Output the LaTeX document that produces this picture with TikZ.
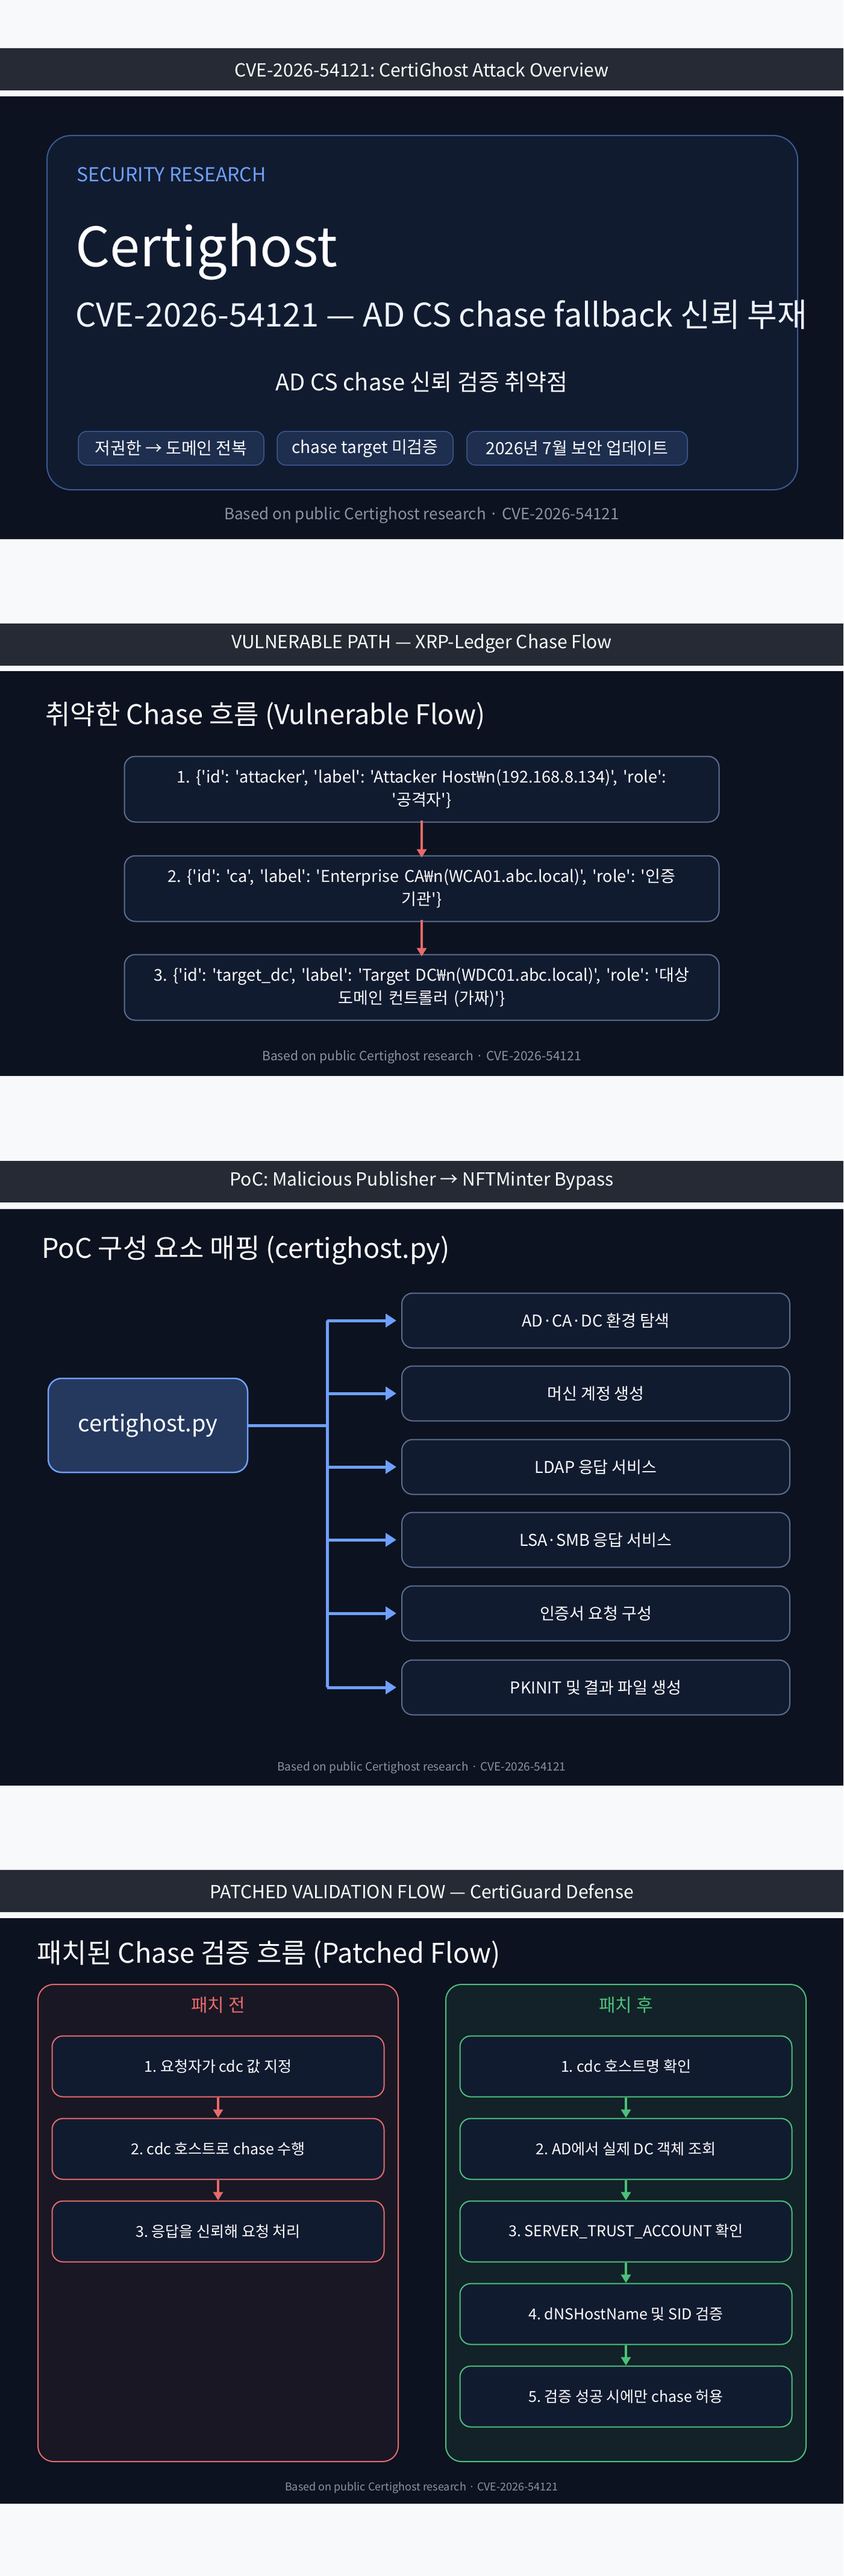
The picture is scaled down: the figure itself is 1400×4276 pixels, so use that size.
\documentclass[tikz,border=0pt]{standalone}
\usepackage{fontspec}
\newfontfamily\kr{Noto Sans CJK KR}
\usetikzlibrary{arrows.meta}
\definecolor{pagebg}{HTML}{F8F9FB}
\definecolor{hdr}{HTML}{252A34}
\definecolor{dark}{HTML}{0C1220}
\definecolor{card}{HTML}{111B30}
\definecolor{bord}{HTML}{3B5A94}
\definecolor{acc}{HTML}{6EA0FF}
\definecolor{foot}{HTML}{8A93A3}
\definecolor{red}{HTML}{E86A6A}
\definecolor{grn}{HTML}{4CC07A}
\definecolor{boxb}{HTML}{5B6E8F}
\newcommand{\fs}[1]{\fontsize{#1}{#1}\selectfont}
\frenchspacing
\begin{document}
\frenchspacing
\begin{tikzpicture}[x=1pt,y=-1pt,font=\kr,
  hdrtxt/.style={text=white,font=\kr\fontsize{30}{34}\selectfont},
  foottxt/.style={text=foot,font=\kr\fontsize{21}{24}\selectfont},
  sect/.style={text=white,anchor=west,font=\kr\fontsize{45}{52}\selectfont},
  tag/.style={draw=bord,fill=card!70!bord,rounded corners=14pt,line width=1.5pt,text=white,font=\kr\fontsize{28}{32}\selectfont,minimum height=56pt,inner xsep=10pt},
  vbox/.style={draw=boxb,fill=card,rounded corners=18pt,line width=2pt,text=white,minimum width=987pt,minimum height=109pt,text width=940pt,align=center,font=\kr\fontsize{27}{38}\selectfont\frenchspacing},
  pbox/.style={draw=boxb,fill=card,rounded corners=18pt,line width=2pt,text=white,minimum width=644pt,minimum height=91pt,font=\kr\fontsize{27}{32}\selectfont},
  fbox/.style={fill=card,rounded corners=18pt,line width=2pt,text=white,minimum width=551pt,minimum height=101pt,font=\kr\fontsize{25}{30}\selectfont},
  rarr/.style={-{Triangle[width=16pt,length=14pt]},line width=4pt},
  barr/.style={-{Triangle[width=22pt,length=18pt]},line width=5pt,draw=acc}]
\useasboundingbox (0,0) rectangle (1400,4276);
\fill[pagebg] (0,0) rectangle (1400,4276);
% ---------- Section 1
\fill[hdr] (0,80) rectangle (1400,150);
\node[hdrtxt] (h1) at (700,116) {CVE-2026-54121: CertiGhost Attack Overview};
\fill[dark] (0,160) rectangle (1400,895);
\draw[bord,fill=card,line width=2pt,rounded corners=40pt] (78,225) rectangle (1324,813);
\node[anchor=west,text=acc,font=\kr\fs{32}] (sr) at (124,290) {SECURITY RESEARCH};
\node[anchor=base west,text=white,font=\kr\fs{90}] (ct) at (122,442) {Certighost};
\node[anchor=west,text=white!88!acc,font=\kr\fs{54}] (sub) at (122,522) {CVE-2026-54121 — AD CS chase fallback 신뢰 부재};
\node[text=white,font=\kr\fs{38}] (lead) at (700,634) {AD CS chase 신뢰 검증 취약점};
\node[tag,minimum width=308pt] (t1) at (284,744) {저권한 → 도메인 전복};
\node[tag,minimum width=292pt] (t2) at (606,744) {chase target 미검증};
\node[tag,minimum width=366pt] (t3) at (958,744) {2026년 7월 보안 업데이트};
\node[foottxt,font=\kr\fs{26}] (f1) at (700,855) {Based on public Certighost research · CVE-2026-54121};
% ---------- Section 2
\fill[hdr] (0,1035) rectangle (1400,1105);
\node[hdrtxt] (h2) at (700,1068) {VULNERABLE PATH — XRP-Ledger Chase Flow};
\fill[dark] (0,1114) rectangle (1400,1786);
\node[sect] (s2) at (72,1188) {취약한 Chase 흐름 (Vulnerable Flow)};
\node[vbox] (v1) at (700,1310) {1. \{'id': 'attacker', 'label': 'Attacker Host₩n(192.168.8.134)', 'role':\\'공격자'\}};
\node[vbox] (v2) at (700,1475) {2. \{'id': 'ca', 'label': 'Enterprise CA₩n(WCA01.abc.local)', 'role': '인증\\기관'\}};
\node[vbox] (v3) at (700,1639) {3. \{'id': 'target\_dc', 'label': 'Target DC₩n(WDC01.abc.local)', 'role': '대상\\도메인 컨트롤러 (가짜)'\}};
\draw[rarr,red] ([yshift=4pt]v1.south) -- ([yshift=-4pt]v2.north);
\draw[rarr,red] ([yshift=4pt]v2.south) -- ([yshift=-4pt]v3.north);
\node[foottxt] (f2) at (700,1755) {Based on public Certighost research · CVE-2026-54121};
% ---------- Section 3
\fill[hdr] (0,1927) rectangle (1400,1996);
\node[hdrtxt] (h3) at (700,1960) {PoC: Malicious Publisher → NFTMinter Bypass};
\fill[dark] (0,2007) rectangle (1400,2964);
\node[sect] (s3) at (66,2075) {PoC 구성 요소 매핑 (certighost.py)};
\node[draw=acc,fill=acc!22!card,rounded corners=22pt,line width=2.5pt,minimum width=331pt,minimum height=156pt,text=white,font=\kr\fs{38}] (py) at (245.5,2366) {certighost.py};
\node[pbox] (p1) at (989,2192) {AD·CA·DC 환경 탐색};
\node[pbox] (p2) at (989,2313) {머신 계정 생성};
\node[pbox] (p3) at (989,2435) {LDAP 응답 서비스};
\node[pbox] (p4) at (989,2556) {LSA·SMB 응답 서비스};
\node[pbox] (p5) at (989,2678) {인증서 요청 구성};
\node[pbox] (p6) at (989,2801) {PKINIT 및 결과 파일 생성};
\coordinate (tr) at (543,2366);
\coordinate (tt) at (543,2192);
\coordinate (tb) at (543,2801);
\draw[acc,line width=5pt] (py.east) -- (tr);
\draw[acc,line width=5pt] (tt) -- (tb);
\foreach \i in {1,...,6} \draw[barr] (tr |- p\i.west) -- ([xshift=-8pt]p\i.west);
\node[foottxt,font=\kr\fs{19}] (f3) at (700,2934) {Based on public Certighost research · CVE-2026-54121};
% ---------- Section 4
\fill[hdr] (0,3104) rectangle (1400,3174);
\node[hdrtxt] (h4) at (700,3140) {PATCHED VALIDATION FLOW — CertiGuard Defense};
\fill[dark] (0,3184) rectangle (1400,4156);
\node[sect] (s4) at (58,3244) {패치된 Chase 검증 흐름 (Patched Flow)};
\draw[red,fill=red!6!dark,line width=2pt,rounded corners=26pt] (63,3294) rectangle (661,4086);
\draw[grn,fill=grn!9!dark,line width=2pt,rounded corners=26pt] (740,3294) rectangle (1338,4086);
\node[text=red,font=\kr\fs{30}] (lb) at (362,3328) {패치 전};
\node[text=grn,font=\kr\fs{30}] (la) at (1039,3328) {패치 후};
\node[fbox,draw=red] (a1) at (362,3430) {1. 요청자가 cdc 값 지정};
\node[fbox,draw=red] (a2) at (362,3567) {2. cdc 호스트로 chase 수행};
\node[fbox,draw=red] (a3) at (362,3704) {3. 응답을 신뢰해 요청 처리};
\draw[rarr,red] (a1.south) -- (a2.north);
\draw[rarr,red] (a2.south) -- (a3.north);
\node[fbox,draw=grn] (b1) at (1039,3430) {1. cdc 호스트명 확인};
\node[fbox,draw=grn] (b2) at (1039,3567) {2. AD에서 실제 DC 객체 조회};
\node[fbox,draw=grn] (b3) at (1039,3704) {3. SERVER\_TRUST\_ACCOUNT 확인};
\node[fbox,draw=grn] (b4) at (1039,3841) {4. dNSHostName 및 SID 검증};
\node[fbox,draw=grn] (b5) at (1039,3978) {5. 검증 성공 시에만 chase 허용};
\foreach \a/\b in {b1/b2,b2/b3,b3/b4,b4/b5} \draw[rarr,grn] (\a.south) -- (\b.north);
\node[foottxt,font=\kr\fs{18}] (f4) at (700,4130) {Based on public Certighost research · CVE-2026-54121};
\end{tikzpicture}
\end{document}
